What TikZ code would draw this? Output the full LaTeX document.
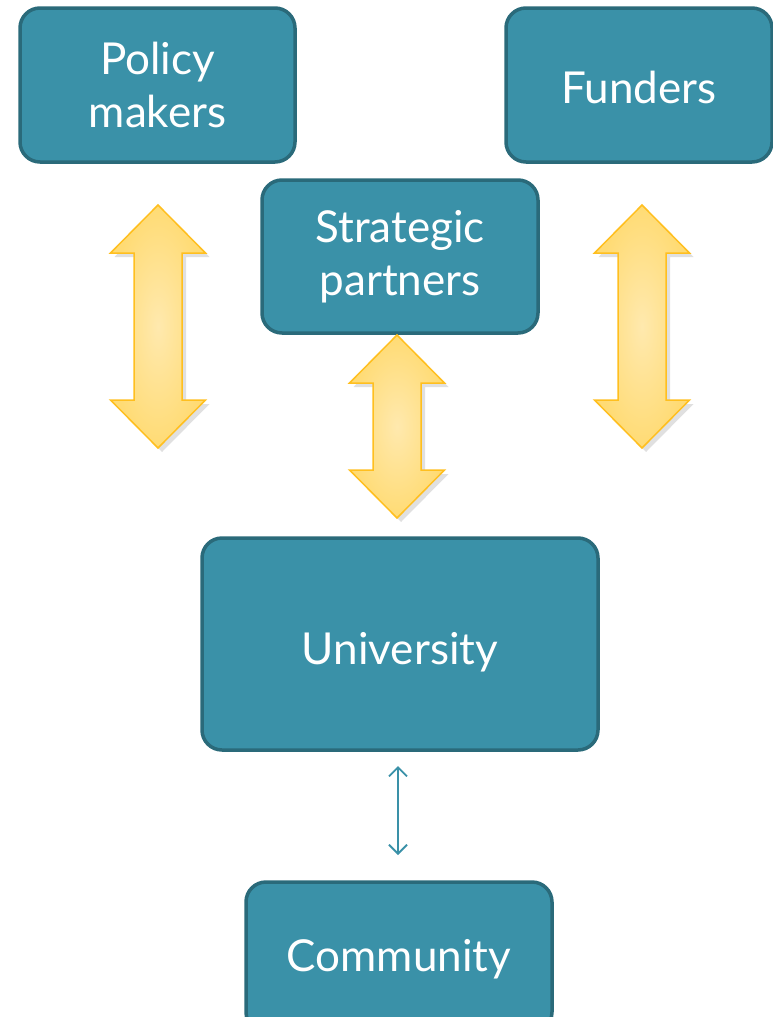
\documentclass[tikz,border=0pt]{standalone}
\usepackage{fontspec}
\setmainfont{Lato}
\usetikzlibrary{arrows.meta}
\definecolor{boxfill}{HTML}{3A91A8}
\definecolor{boxline}{HTML}{2A6A7A}
\definecolor{arrline}{HTML}{FFBF1F}
\definecolor{arrin}{HTML}{FFE9AE}
\definecolor{arrout}{HTML}{FFDB74}
\definecolor{thinarrow}{HTML}{3A91A8}
\tikzset{
  teamtext/.style={text=white, font=\fontsize{44}{53}\selectfont, align=center, inner sep=0pt},
  teambox/.style={draw=boxline, line width=3.5pt, fill=boxfill, rounded corners=20pt, teamtext},
  yarr/.style={draw=arrline, line width=1.5pt, shading=radial, inner color=arrin, outer color=arrout},
  yshadow/.style={fill=black, opacity=0.12},
}
\newcommand\yarrow[4]{% cx, ytop, ybot, headlen
  \fill[yshadow] (#1-47.5+4,#2+48+4) -- (#1+4,#2+4) -- (#1+47.5+4,#2+48+4) -- (#1+24+4,#2+48+4) -- (#1+24+4,#3-48+4) -- (#1+47.5+4,#3-48+4) -- (#1+4,#3+4) -- (#1-47.5+4,#3-48+4) -- (#1-24+4,#3-48+4) -- (#1-24+4,#2+48+4) -- cycle;
  \path[yarr] (#1-47.5,#2+#4) -- (#1,#2) -- (#1+47.5,#2+#4) -- (#1+24,#2+#4) -- (#1+24,#3-#4) -- (#1+47.5,#3-#4) -- (#1,#3) -- (#1-47.5,#3-#4) -- (#1-24,#3-#4) -- (#1-24,#2+#4) -- cycle;
}
\begin{document}
\begin{tikzpicture}[x=1pt,y=-1pt]
\useasboundingbox (0,0) rectangle (773,1017);
\begin{scope}
\clip (0,0) rectangle (773,1017);
\node[teambox, minimum width=275pt, minimum height=154pt] (policy) at (157.5,85) {Policy\\makers};
\node[teambox, minimum width=266pt, minimum height=154pt,
  label={[teamtext, yshift=-2pt]center:Funders}] (funders) at (639,85) {};
\node[teambox, minimum width=276pt, minimum height=153pt] (strat) at (400,256.5) {Strategic\\partners};
\node[teambox, minimum width=396pt, minimum height=212pt,
  label={[teamtext, yshift=-8pt]center:University}] (uni) at (400,644) {};
\node[teambox, minimum width=306pt, minimum height=150pt,
  label={[teamtext, yshift=-2pt]center:Community}] (comm) at (399,957) {};
\yarrow{158}{205}{448}{48}
\yarrow{642}{205}{448}{48}
\yarrow{397}{335}{518}{48}
\coordinate (t1) at (398,766);
\coordinate (t2) at (398,855);
\draw[draw=thinarrow, line width=1.8pt, {Straight Barb[length=9pt,width=18pt]}-{Straight Barb[length=9pt,width=18pt]}] (t1) -- (t2);
\end{scope}
\end{tikzpicture}
\end{document}
